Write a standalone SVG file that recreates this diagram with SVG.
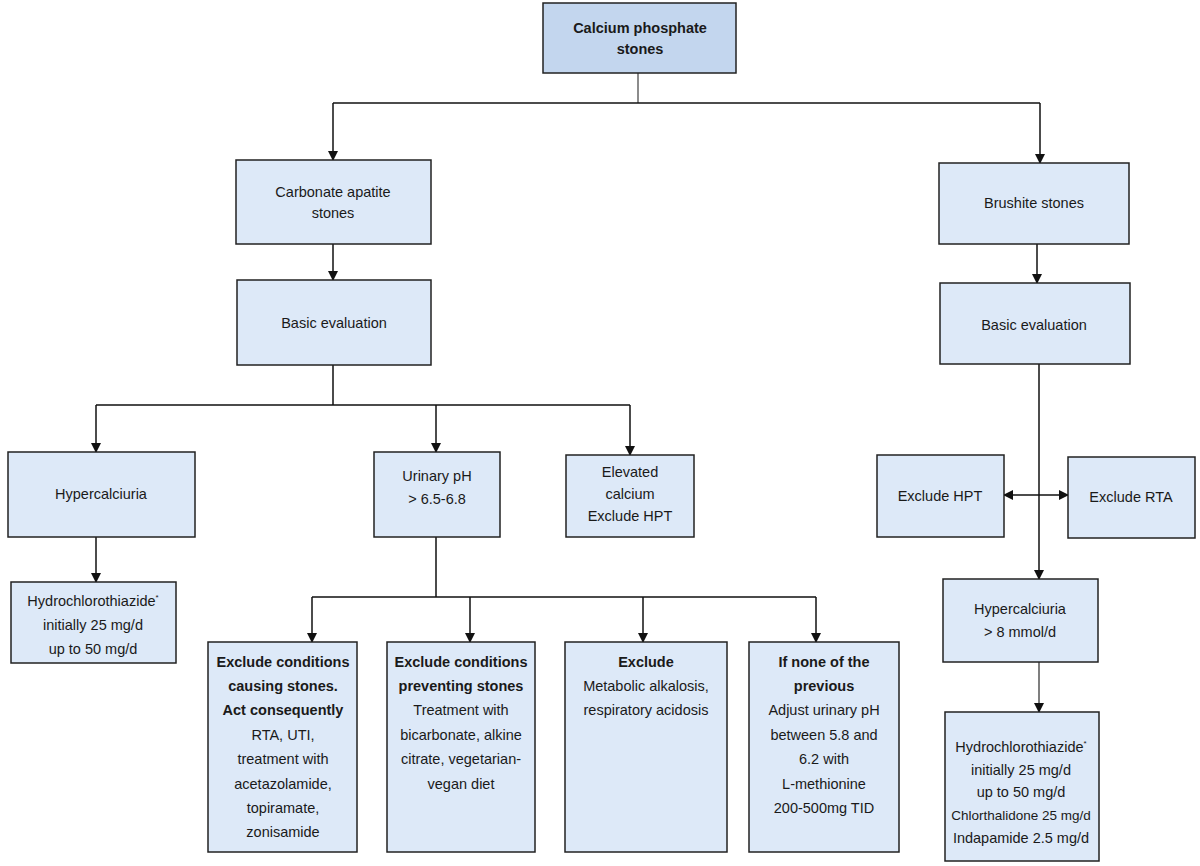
<svg xmlns="http://www.w3.org/2000/svg" width="1200" height="866" viewBox="0 0 1200 866">
<style>
rect{fill:#dde9f8;stroke:#222;stroke-width:1.5}
#top rect{fill:#c3d6ee}
text{font-family:"Liberation Sans",Arial,sans-serif;font-size:14.5px;fill:#1a1a1a;text-anchor:middle}
.b{font-weight:bold}
#conn path{fill:none;stroke:#111;stroke-width:1.5}
</style>
<defs><marker id="a" markerWidth="10" markerHeight="10" refX="9" refY="5" orient="auto-start-reverse" markerUnits="userSpaceOnUse"><path d="M0,0L10,5L0,10z" fill="#111"/></marker></defs>
<rect x="0" y="0" width="1200" height="866" style="fill:#fff;stroke:none"/>
<g id="conn">
<path d="M638,73V103" style="stroke:#666"/>
<path d="M333,103H1040"/>
<path d="M333,103V160" marker-end="url(#a)"/>
<path d="M1040,103V163" marker-end="url(#a)"/>
<path d="M333,244V280" marker-end="url(#a)"/>
<path d="M1037,244V283" marker-end="url(#a)"/>
<path d="M333,365V405M96,405H630"/>
<path d="M96,405V452" marker-end="url(#a)"/>
<path d="M436,405V452" marker-end="url(#a)"/>
<path d="M630,405V455" marker-end="url(#a)"/>
<path d="M96,537V582" marker-end="url(#a)"/>
<path d="M436,537V597M312,597H816"/>
<path d="M312,597V642" marker-end="url(#a)"/>
<path d="M470,597V642" marker-end="url(#a)"/>
<path d="M643,597V642" marker-end="url(#a)"/>
<path d="M816,597V642" marker-end="url(#a)"/>
<path d="M1039,364V579" marker-end="url(#a)"/>
<path d="M1004,495H1068" marker-start="url(#a)" marker-end="url(#a)"/>
<path d="M1039,662V712" marker-end="url(#a)" style="stroke:#555"/>
</g>
<g id="top"><rect x="543" y="3" width="193" height="70"/><text class="b" x="640" y="33">Calcium  phosphate</text><text class="b" x="640" y="54">stones</text></g>
<g id="carb"><rect x="236" y="160" width="195" height="84"/><text x="333" y="197">Carbonate apatite</text><text x="333" y="218">stones</text></g>
<g id="bel"><rect x="237" y="280" width="194" height="85"/><text x="334" y="328">Basic evaluation</text></g>
<g id="hyl"><rect x="8" y="452" width="187" height="85"/><text x="101" y="499">Hypercalciuria</text></g>
<g id="hcl"><rect x="11" y="582" width="165" height="81"/><text x="93" y="606">Hydrochlorothiazide<tspan dy="-6" font-size="8">*</tspan></text><text x="93" y="630">initially 25 mg/d</text><text x="93" y="654">up to 50 mg/d</text></g>
<g id="uph"><rect x="374" y="452" width="126" height="85"/><text x="437" y="481">Urinary pH</text><text x="437" y="504">&gt; 6.5-6.8</text></g>
<g id="elc"><rect x="566" y="455" width="128" height="82"/><text x="630" y="477">Elevated</text><text x="630" y="499">calcium</text><text x="630" y="521">Exclude HPT</text></g>
<g id="b1"><rect x="208" y="642" width="149" height="210"/>
<text class="b" x="283" y="667">Exclude conditions</text><text class="b" x="283" y="691">causing  stones.</text><text class="b" x="283" y="715">Act consequently</text><text x="283" y="740">RTA,  UTI,</text><text x="283" y="764">treatment  with</text><text x="283" y="789">acetazolamide,</text><text x="283" y="813">topiramate,</text><text x="283" y="837">zonisamide</text></g>
<g id="b2"><rect x="387" y="642" width="148" height="210"/>
<text class="b" x="461" y="667">Exclude conditions</text><text class="b" x="461" y="691">preventing stones</text><text x="461" y="715">Treatment  with</text><text x="461" y="740">bicarbonate, alkine</text><text x="461" y="764">citrate, vegetarian-</text><text x="461" y="789">vegan diet</text></g>
<g id="b3"><rect x="565" y="642" width="162" height="210"/>
<text class="b" x="646" y="667">Exclude</text><text x="646" y="691">Metabolic alkalosis,</text><text x="646" y="715">respiratory acidosis</text></g>
<g id="b4"><rect x="749" y="642" width="150" height="210"/>
<text class="b" x="824" y="667">If none of the</text><text class="b" x="824" y="691">previous</text><text x="824" y="715">Adjust urinary pH</text><text x="824" y="740">between  5.8 and</text><text x="824" y="764">6.2 with</text><text x="824" y="789">L-methionine</text><text x="824" y="813">200-500mg TID</text></g>
<g id="bru"><rect x="939" y="163" width="190" height="81"/><text x="1034" y="208">Brushite stones</text></g>
<g id="ber"><rect x="940" y="283" width="190" height="81"/><text x="1034" y="330">Basic evaluation</text></g>
<g id="hpt"><rect x="877" y="455" width="127" height="82"/><text x="940" y="501">Exclude HPT</text></g>
<g id="rta"><rect x="1068" y="457" width="127" height="81"/><text x="1131" y="502">Exclude RTA</text></g>
<g id="hyr"><rect x="943" y="579" width="155" height="83"/><text x="1020" y="614">Hypercalciuria</text><text x="1020" y="637">&gt; 8 mmol/d</text></g>
<g id="hcr"><rect x="945" y="712" width="154" height="149"/><text x="1021" y="752">Hydrochlorothiazide<tspan dy="-6" font-size="8">*</tspan></text><text x="1021" y="775">initially 25 mg/d</text><text x="1021" y="797">up to 50 mg/d</text><text x="1021" y="820" style="font-size:13.5px">Chlorthalidone 25 mg/d</text><text x="1021" y="843">Indapamide 2.5 mg/d</text></g>
</svg>
